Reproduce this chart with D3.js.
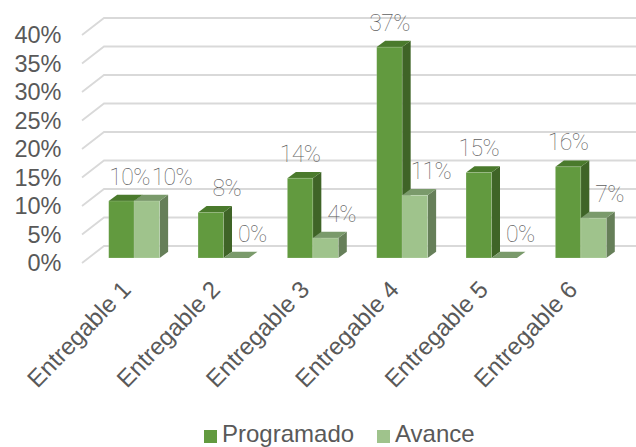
<!DOCTYPE html>
<html>
<head>
<meta charset="utf-8">
<script src="https://d3js.org/d3.v7.min.js"></script>
<style>
html, body { margin: 0; padding: 0; background: #fff; overflow: hidden; }
svg { display: block; }
.tick-label { font-family: "Liberation Sans", Arial, sans-serif; font-size: 23.5px; fill: #595959; }
.cat-label { font-family: "Liberation Sans", Arial, sans-serif; font-size: 24px; fill: #595959; }
.data-label { font-family: Roboto, sans-serif; font-weight: 100; font-size: 23px; letter-spacing: -0.6px; fill: #5f5f5f; }
</style>
</head>
<body>
<div id="chart"></div>
<script>
// chart data
const categories = ['Entregable 1', 'Entregable 2', 'Entregable 3', 'Entregable 4', 'Entregable 5', 'Entregable 6'];
const programado = [10, 8, 14, 37, 15, 16];
const avance = [10, 0, 3.5, 11, 0, 7];
const yTicks = [0, 5, 10, 15, 20, 25, 30, 35, 40];
const seriesNames = ['Programado', 'Avance'];

const width = 636;
const height = 447;

const colors = {
    Programado: { front: '#629a3f', top: '#4a7a2c', side: '#3f6427' },
    Avance: { front: '#9fc38c', top: '#7a9a6b', side: '#667f59' }
};

// 3d offsets of the wall and of each bar
const wall = { dx: 22, dy: -17 };
const floorY = -5;
const depth = { dx: 8.5, dy: -6.3 };

const svg = d3.select('#chart').append('svg')
    .attr('width', width)
    .attr('height', height);

const y = d3.scaleLinear().domain([0, 40]).range([263, 35]);

const x0 = d3.scaleBand()
    .domain(categories)
    .range([89.5, 625.5])
    .paddingInner(0.43)
    .paddingOuter(0.215);

const x1 = d3.scaleBand()
    .domain(seriesNames)
    .range([0, x0.bandwidth()]);

// gridlines, one bent line per tick
svg.append('g').selectAll('path')
    .data(yTicks)
    .enter()
    .append('path')
    .attr('fill', 'none')
    .attr('stroke', '#d9d9d9')
    .attr('stroke-width', 1.8)
    .attr('d', d => `M82,${y(d)}L${82 + wall.dx},${y(d) + wall.dy}L${width},${y(d) + wall.dy}`);

// y axis labels
svg.append('g').selectAll('text')
    .data(yTicks)
    .enter()
    .append('text')
    .attr('class', 'tick-label')
    .attr('x', 61.5)
    .attr('y', d => y(d))
    .attr('dy', '0.35em')
    .attr('text-anchor', 'end')
    .text(d => d + '%');

function drawBar(g, cat, name, value) {
    const c = colors[name];
    const left = x0(cat) + x1(name);
    const right = left + x1.bandwidth();
    const base = y(0) + floorY;
    const top = y(value) + floorY;

    g.append('path')
        .attr('fill', c.side)
        .attr('d', `M${right},${base}L${right + depth.dx},${base + depth.dy}L${right + depth.dx},${top + depth.dy}L${right},${top}Z`);
    g.append('path')
        .attr('fill', c.top)
        .attr('d', `M${left},${top}L${left + depth.dx},${top + depth.dy}L${right + depth.dx},${top + depth.dy}L${right},${top}Z`);
    if (value > 0) {
        g.append('rect')
            .attr('x', left)
            .attr('y', top)
            .attr('width', x1.bandwidth())
            .attr('height', base - top)
            .attr('fill', c.front)
            .attr('stroke', '#fff')
            .attr('stroke-opacity', 0.25)
            .attr('stroke-width', 0.7);
    }
}

const bars = svg.append('g');
categories.forEach((cat, i) => {
    drawBar(bars, cat, 'Programado', programado[i]);
    drawBar(bars, cat, 'Avance', avance[i]);
});

// data labels were moved by hand in the original for the first two groups
const labelNudge = {
    'Programado|Entregable 1': 8,
    'Programado|Entregable 2': 16,
    'Avance|Entregable 1': 25
};

function drawLabels(name, values, baseDx) {
    svg.append('g').selectAll('text')
        .data(values)
        .enter()
        .append('text')
        .attr('class', 'data-label')
        .attr('text-anchor', 'middle')
        .attr('x', (d, i) => {
            const key = name + '|' + categories[i];
            const dx = labelNudge[key] !== undefined ? labelNudge[key] : baseDx;
            return x0(categories[i]) + x1(name) + x1.bandwidth() / 2 + dx;
        })
        .attr('y', d => y(d) + floorY - 16.5)
        .text(d => Math.round(d) + '%');
}
drawLabels('Programado', programado, 0);
drawLabels('Avance', avance, 16);

// rotated category labels
svg.append('g').selectAll('text')
    .data(categories)
    .enter()
    .append('text')
    .attr('class', 'cat-label')
    .attr('text-anchor', 'end')
    .attr('transform', d => `translate(${x0(d) + x0.bandwidth() / 2 - 2},${291}) rotate(-46)`)
    .text(d => d);

// legend
const legendX = { Programado: 204, Avance: 377 };
const legend = svg.append('g');
seriesNames.forEach(name => {
    legend.append('rect')
        .attr('x', legendX[name])
        .attr('y', 430)
        .attr('width', 13)
        .attr('height', 13)
        .attr('fill', colors[name].front);
    legend.append('text')
        .attr('class', 'cat-label')
        .attr('x', legendX[name] + 18)
        .attr('y', 441.5)
        .text(name);
});
</script>
</body>
</html>
